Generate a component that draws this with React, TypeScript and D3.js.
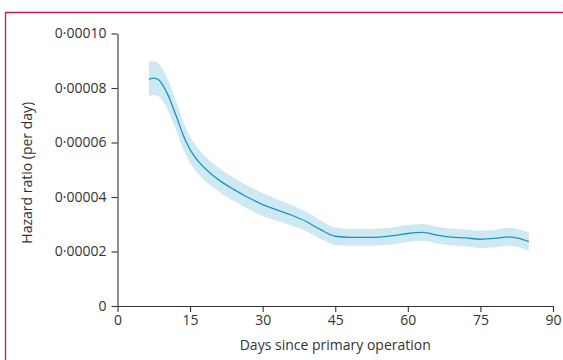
import React, { useEffect, useRef } from 'react';
import * as d3 from 'd3';

// days since primary operation
const days = [6.5, 7.5, 8.5, 9.5, 10.5, 11.5, 12.5, 13.5, 15, 17, 19, 21, 24, 27, 30, 33, 36, 39, 42, 45, 48, 51, 54, 57, 60, 63, 66, 69, 72, 75, 78, 81, 83, 85];
// hazard ratio, x1e-5 per day
const hazard = [8.32, 8.36, 8.3, 8.06, 7.72, 7.27, 6.8, 6.3, 5.74, 5.25, 4.9, 4.62, 4.28, 3.98, 3.72, 3.52, 3.33, 3.1, 2.8, 2.56, 2.52, 2.52, 2.53, 2.58, 2.66, 2.7, 2.6, 2.53, 2.5, 2.45, 2.48, 2.54, 2.48, 2.36];
const lower = [7.68, 7.74, 7.7, 7.48, 7.16, 6.73, 6.28, 5.8, 5.26, 4.79, 4.45, 4.18, 3.85, 3.56, 3.3, 3.12, 2.95, 2.74, 2.46, 2.24, 2.21, 2.21, 2.22, 2.27, 2.35, 2.39, 2.29, 2.22, 2.19, 2.13, 2.16, 2.21, 2.15, 2.02];
const upper = [8.97, 8.98, 8.9, 8.64, 8.28, 7.81, 7.32, 6.8, 6.22, 5.71, 5.35, 5.06, 4.71, 4.4, 4.14, 3.92, 3.71, 3.46, 3.14, 2.88, 2.83, 2.83, 2.84, 2.89, 2.97, 3.01, 2.91, 2.84, 2.81, 2.77, 2.8, 2.87, 2.81, 2.7];

const xTicks = [0, 15, 30, 45, 60, 75, 90];
const yTicks = [0, 0.00002, 0.00004, 0.00006, 0.00008, 0.0001];

const W = 563;
const H = 360;
const FONT = '"Open Sans", sans-serif';
const FS = '14px';

export default function App() {
  const svgRef = useRef<SVGSVGElement>(null);

  useEffect(() => {
    if (!svgRef.current) return;
    const svg = d3.select(svgRef.current);
    svg.selectAll('*').remove();

    const x = d3.scaleLinear().domain([0, 90]).range([117.5, 553]);
    const y = d3.scaleLinear().domain([0, 0.0001]).range([306, 33.5]);

    // frame
    svg.append('path')
      .attr('d', `M5.5,${H} V12.5 H${W}`)
      .attr('fill', 'none')
      .attr('stroke', '#c2184b')
      .attr('stroke-width', 1.3);

    const rows = days.map((d, i) => ({ d, v: hazard[i] * 1e-5, lo: lower[i] * 1e-5, hi: upper[i] * 1e-5 }));

    const area = d3.area<typeof rows[0]>()
      .x(r => x(r.d))
      .y0(r => y(r.lo))
      .y1(r => y(r.hi))
      .curve(d3.curveMonotoneX);

    svg.append('path')
      .datum(rows)
      .attr('d', area)
      .attr('fill', '#cfe9f2');

    const line = d3.line<typeof rows[0]>()
      .x(r => x(r.d))
      .y(r => y(r.v))
      .curve(d3.curveMonotoneX);

    svg.append('path')
      .datum(rows)
      .attr('d', line)
      .attr('fill', 'none')
      .attr('stroke', '#1796c4')
      .attr('stroke-width', 1.3);

    const fmt = (v: number) => (v === 0 ? '0' : v.toFixed(5).replace('.', '·'));

    const yAxis = svg.append('g')
      .attr('transform', `translate(${x(0)},0)`)
      .call(d3.axisLeft(y).tickValues(yTicks).tickFormat(d => fmt(d as number)).tickSize(6).tickSizeOuter(0).tickPadding(5));

    const xAxis = svg.append('g')
      .attr('transform', `translate(0,${y(0)})`)
      .call(d3.axisBottom(x).tickValues(xTicks).tickFormat(d => String(d)).tickSize(6).tickSizeOuter(0).tickPadding(3));

    [yAxis, xAxis].forEach(a => {
      a.selectAll('path, line').attr('stroke', '#333').attr('stroke-width', 1.1);
      a.selectAll('text').attr('fill', '#333').style('font-family', FONT).style('font-size', FS);
    });

    svg.append('text')
      .attr('x', (x(0) + x(90)) / 2)
      .attr('y', 350)
      .attr('text-anchor', 'middle')
      .attr('fill', '#333')
      .style('font-family', FONT)
      .style('font-size', FS)
      .text('Days since primary operation');

    svg.append('text')
      .attr('transform', `translate(32,${(y(0) + y(0.0001)) / 2 + 3}) rotate(-90)`)
      .attr('text-anchor', 'middle')
      .attr('fill', '#333')
      .style('font-family', FONT)
      .style('font-size', FS)
      .text('Hazard ratio (per day)');
  }, []);

  return (
    <svg
      ref={svgRef}
      width={W}
      height={H}
      style={{ position: 'absolute', left: 0, top: 0, background: '#fff' }}
    />
  );
}
